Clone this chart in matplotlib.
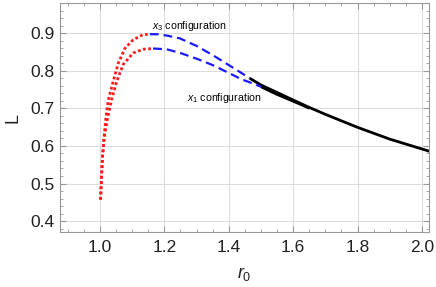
import matplotlib
matplotlib.use('Agg')
import matplotlib.pyplot as plt
from matplotlib.ticker import MultipleLocator

plt.rcParams['font.family'] = ['Liberation Sans', 'DejaVu Sans']
plt.rcParams['mathtext.fontset'] = 'custom'
plt.rcParams['mathtext.it'] = 'Liberation Sans:italic'
plt.rcParams['mathtext.rm'] = 'Liberation Sans'

# upper branch (x3 configuration)
up_red_r = [1.002, 1.005, 1.008, 1.013, 1.019, 1.026, 1.041, 1.057, 1.078, 1.103, 1.134, 1.155]
up_red_L = [0.457, 0.517, 0.570, 0.624, 0.679, 0.722, 0.771, 0.820, 0.860, 0.882, 0.896, 0.897]
up_blue_r = [1.155, 1.18, 1.21, 1.248, 1.30, 1.351, 1.40, 1.43, 1.465]
up_blue_L = [0.897, 0.897, 0.893, 0.886, 0.866, 0.841, 0.815, 0.799, 0.780]
up_black_r = [1.465, 1.50, 1.558, 1.60, 1.651, 1.70, 1.798, 1.90, 2.03]
up_black_L = [0.780, 0.762, 0.739, 0.722, 0.702, 0.684, 0.650, 0.618, 0.584]

# lower branch (x1 configuration)
lo_red_r = [1.002, 1.005, 1.008, 1.013, 1.024, 1.036, 1.052, 1.072, 1.103, 1.134, 1.165]
lo_red_L = [0.457, 0.517, 0.570, 0.622, 0.675, 0.722, 0.771, 0.816, 0.847, 0.857, 0.859]
lo_blue_r = [1.165, 1.207, 1.25, 1.30, 1.35, 1.393, 1.44, 1.475, 1.501]
lo_blue_L = [0.859, 0.857, 0.847, 0.832, 0.815, 0.797, 0.777, 0.766, 0.757]
lo_black_r = [1.501, 1.55, 1.60, 1.651]
lo_black_L = [0.757, 0.737, 0.719, 0.700]

fig = plt.figure(figsize=(4.36, 2.87), dpi=100)
ax = fig.add_axes([0.1376, 0.1916, 0.8464, 0.7979])

for r, L in [(up_black_r, up_black_L), (lo_black_r, lo_black_L)]:
    ax.plot(r, L, color='black', lw=2.0, solid_capstyle='butt', zorder=3)
for r, L in [(up_blue_r, up_blue_L), (lo_blue_r, lo_blue_L)]:
    ax.plot(r, L, color='#1a1aff', lw=1.6, ls=(0, (4, 2.2)), zorder=3)
for r, L in [(up_red_r, up_red_L), (lo_red_r, lo_red_L)]:
    ax.plot(r, L, color='#ff1a1a', lw=2.0, ls=(0, (1, 0.9)), zorder=3)

ax.text(1.161, 0.919, '$x_3$ configuration', fontsize=7.6, va='center', ha='left')
ax.text(1.270, 0.728, '$x_1$ configuration', fontsize=7.6, va='center', ha='left')

ax.set_xlim(0.876, 2.022)
ax.set_ylim(0.371, 0.98)
ax.xaxis.set_major_locator(MultipleLocator(0.2))
ax.xaxis.set_minor_locator(MultipleLocator(0.05))
ax.yaxis.set_major_locator(MultipleLocator(0.1))
ax.yaxis.set_minor_locator(MultipleLocator(0.02))
ax.set_xticks([1.0, 1.2, 1.4, 1.6, 1.8, 2.0])
ax.set_xticklabels(['1.0', '1.2', '1.4', '1.6', '1.8', '2.0'])
ax.set_yticks([0.4, 0.5, 0.6, 0.7, 0.8, 0.9])
ax.set_yticklabels(['0.4', '0.5', '0.6', '0.7', '0.8', '0.9'])

ax.grid(True, which='major', color='#dcdcdc', lw=0.8, zorder=0)
ax.tick_params(which='both', direction='in', color='#999999', labelsize=12.5,
               labelcolor='#222222', top=True, right=True)
ax.tick_params(which='major', length=4, width=0.8)
ax.tick_params(which='minor', length=2, width=0.6)
ax.tick_params(axis='x', which='both', pad=6)
ax.tick_params(axis='y', which='both', pad=4)
for s in ax.spines.values():
    s.set_color('#999999')
    s.set_linewidth(0.8)

ax.set_xlabel('$r_0$', fontsize=13, color='#222222', labelpad=7)
ax.set_ylabel('L', fontsize=13, color='#222222', labelpad=6)

fig.savefig('out.png', dpi=100)
plt.close(fig)
